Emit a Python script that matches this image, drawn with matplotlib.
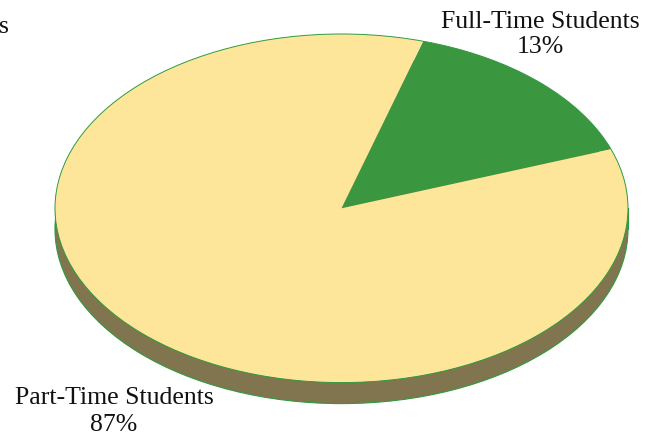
import matplotlib
matplotlib.use("Agg")
import matplotlib.pyplot as plt
from matplotlib.patches import Ellipse, Rectangle

# Data: wedge shares as drawn in the picture, labels as printed on it
categories = ["Full-Time Students", "Part-Time Students"]
drawn_shares = [14.9, 85.1]
printed_labels = ["13%", "87%"]
clipped_label = "s"

W, H = 655, 436
CX, CY, RX, RY = 341.5, 208.3, 286.5, 174.3
DEPTH = 21 / RY
TOP = "#FDE699"
GREEN = "#3A963F"
SIDE = "#81754F"
EDGE = "#2F9A3F"

plt.rcParams["font.family"] = ["Liberation Serif", "DejaVu Serif"]
fig = plt.figure(figsize=(W / 100, H / 100), dpi=100, facecolor="white")
ax = fig.add_axes([0, 0, 1, 1])

# side wall of the disc
ax.add_patch(Ellipse((0, -DEPTH), 2, 2, fc=SIDE, ec=EDGE, lw=0.8, zorder=1))
ax.add_patch(Rectangle((-1, -DEPTH), 2, DEPTH, fc=SIDE, ec="none", zorder=1.1))
ax.plot([-1, -1], [-DEPTH, 0], color=EDGE, lw=0.8, zorder=1.2)
ax.plot([1, 1], [-DEPTH, 0], color=EDGE, lw=0.8, zorder=1.2)

# top face
wedges, _ = ax.pie(drawn_shares, colors=[GREEN, TOP], startangle=19.8,
                   radius=1.0, center=(0, 0), wedgeprops={"linewidth": 0})
for w in wedges:
    w.set_zorder(2)
ax.add_patch(Ellipse((0, 0), 2, 2, fc="none", ec=EDGE, lw=0.7, zorder=3))

ax.set_aspect("auto")
ax.set_xlim(-CX / RX, (W - CX) / RX)
ax.set_ylim((CY - H) / RY, CY / RY)
ax.axis("off")

def px(x, y):
    return (x - CX) / RX, (CY - y) / RY

FS = 18.5
for (name, pct, x, y1, y2) in [
    (categories[0], printed_labels[0], 540, 22.5, 47),
    (categories[1], printed_labels[1], 114, 398, 425),
]:
    ax.text(*px(x, y1), name, ha="center", va="center", fontsize=FS, color="#111111", zorder=5)
    ax.text(*px(x, y2), pct, ha="center", va="center", fontsize=FS, color="#111111", zorder=5)
ax.text(*px(-0.5, 27), clipped_label, ha="left", va="center", fontsize=FS, color="#111111", zorder=5)

fig.savefig("out.png", dpi=100, facecolor="white")
